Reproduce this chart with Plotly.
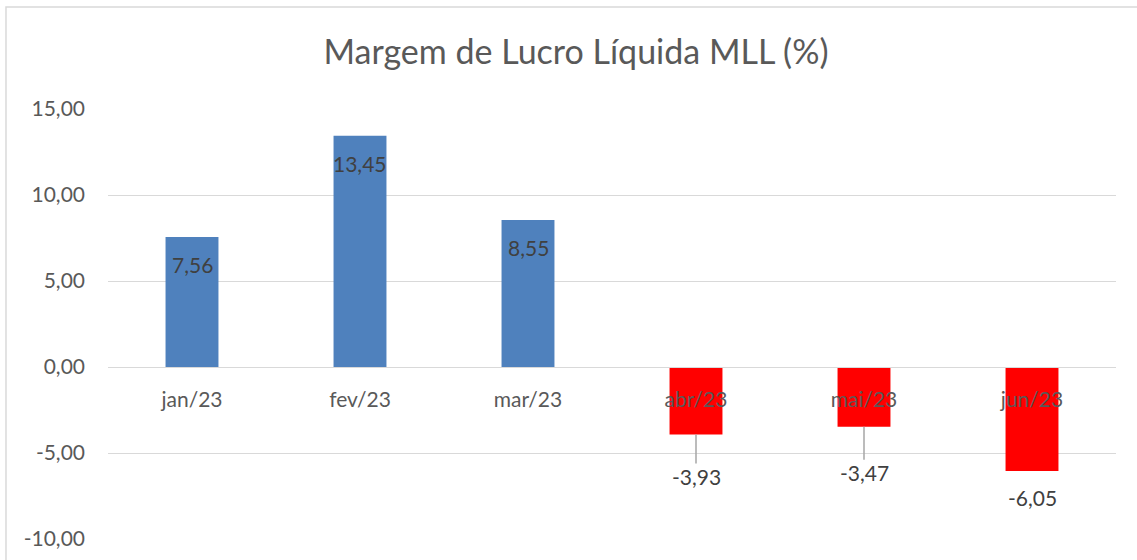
import plotly.graph_objects as go

categories = ["jan/23", "fev/23", "mar/23", "abr/23", "mai/23", "jun/23"]
values = [7.56, 13.45, 8.55, -3.93, -3.47, -6.05]
y_ticks = [-10, -5, 0, 5, 10, 15]
y_tick_labels = ["-10,00", "-5,00", "0,00", "5,00", "10,00", "15,00"]

POS_COLOR = "#4F81BD"
NEG_COLOR = "#FF0000"
FONT = "Lato"

colors = [POS_COLOR if v >= 0 else NEG_COLOR for v in values]


def fmt(v):
    return f"{v:.2f}".replace(".", ",")


fig = go.Figure()
fig.add_trace(go.Bar(x=categories, y=values, marker=dict(color=colors, line=dict(width=0)),
                     hoverinfo="x+y"))

annotations = []
neg_offsets = {"abr/23": 42, "mai/23": 46, "jun/23": 26}
lab_font = dict(family=FONT, size=21, color="#404040")
for c, v in zip(categories, values):
    if v >= 0:
        annotations.append(dict(x=c, y=v, xref="x", yref="y", text=fmt(v), showarrow=False,
                                yshift=-28, font=lab_font))
    elif c == "jun/23":
        annotations.append(dict(x=c, y=v, xref="x", yref="y", text=fmt(v), showarrow=False,
                                yshift=-neg_offsets[c], font=lab_font))
    else:
        annotations.append(dict(x=c, y=v, xref="x", yref="y", text=fmt(v), showarrow=True,
                                arrowhead=0, arrowwidth=1.5, arrowcolor="#A6A6A6", ax=0,
                                ay=neg_offsets[c], standoff=0, borderpad=0,
                                font=lab_font))

fig.update_layout(
    width=1137, height=560,
    margin=dict(l=108, r=21, t=109, b=21, autoexpand=False),
    paper_bgcolor="white", plot_bgcolor="white",
    showlegend=False,
    bargap=0.685,
    title=dict(text="Margem de Lucro Líquida MLL (%)", x=576 / 1137, xanchor="center",
               xref="container", yref="container",
               y=1 - 52 / 560, yanchor="middle",
               font=dict(family=FONT, size=34, color="#595959")),
    annotations=annotations,
    shapes=[dict(type="rect", xref="paper", yref="paper",
                 x0=-0.1012, x1=1.03, y0=-0.2, y1=1.2372,
                 line=dict(color="#D9D9D9", width=1.5), fillcolor="rgba(0,0,0,0)", layer="below")],
)
fig.update_yaxes(range=[-10, 15], tickvals=y_ticks, ticktext=y_tick_labels,
                 showgrid=True, gridcolor="#D9D9D9", gridwidth=1.3,
                 zeroline=True, zerolinecolor="#D9D9D9", zerolinewidth=1.3,
                 showline=False, ticks="", ticklabelstandoff=22, automargin=False,
                 tickfont=dict(family=FONT, size=21, color="#595959"))
fig.update_xaxes(anchor="free", position=0.4, showline=True, linecolor="#D9D9D9", linewidth=1.3,
                 showgrid=False, ticks="outside", ticklen=14, tickcolor="rgba(0,0,0,0)",
                 automargin=False,
                 tickfont=dict(family=FONT, size=21, color="#595959"))

fig.write_html("out.html", config={"displayModeBar": False},
               post_script="document.body.style.margin='0';document.body.style.overflow='hidden';")
